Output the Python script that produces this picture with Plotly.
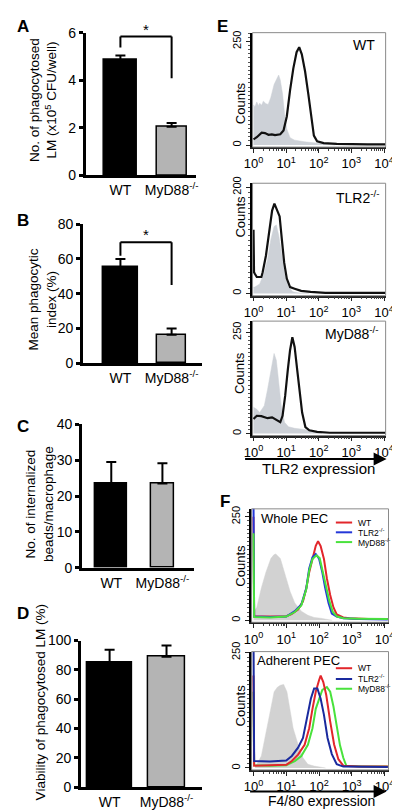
import plotly.graph_objects as go

W, H = 400, 810
FONT = "Arial, Liberation Sans, sans-serif"

# ---------------- data: bar panels ----------------
groups = ["WT", "MyD88<sup>-/-</sup>"]
a_mean = [4.85, 2.05]
a_sem = [0.19, 0.15]
b_mean = [55.1, 16.5]
b_sem = [4.8, 3.5]
c_mean = [23.5, 23.5]
c_sem = [6.0, 5.7]
d_mean = [84.9, 88.9]
d_sem = [8.9, 7.8]
a_ticks = [0, 2, 4, 6]
b_ticks = [0, 20, 40, 60, 80]
c_ticks = [0, 10, 20, 30, 40]
d_ticks = [0, 20, 40, 60, 80, 100]

# ---------------- data: flow histograms (log10 intensity, counts) ----------------
flow_decades = [0, 1, 2, 3, 4]
flow_ticktext = ["10<sup>0</sup>", "10<sup>1</sup>", "10<sup>2</sup>", "10<sup>3</sup>", "10<sup>4</sup>"]

e_wt_iso_x = [0, 0.04, 0.1, 0.15, 0.19, 0.25, 0.3, 0.38, 0.45, 0.53, 0.63, 0.7, 0.73, 0.77, 0.82, 0.89, 0.95, 1.02, 1.12, 1.26, 1.56, 1.85, 2.15, 2.5]
e_wt_iso_y = [97, 92, 104, 95, 101, 96, 106, 100, 98, 115, 146, 158, 163, 169, 157, 123, 76, 39, 18, 12, 8, 5, 2, 0]
e_wt_x = [0, 0.1, 0.25, 0.35, 0.46, 0.56, 0.66, 0.82, 0.92, 1.02, 1.12, 1.22, 1.32, 1.40, 1.48, 1.58, 1.68, 1.78, 1.85, 1.95, 2.15, 2.55, 3.0, 3.5, 4.05]
e_wt_y = [14, 19, 30, 29, 25, 26, 24, 26, 35, 69, 132, 185, 224, 236, 219, 178, 123, 69, 23, 9, 5, 3, 2, 2, 2]

e_tlr_iso_x = [0, 0.04, 0.19, 0.33, 0.43, 0.53, 0.63, 0.70, 0.77, 0.87, 0.97, 1.07, 1.21, 1.4, 1.7]
e_tlr_iso_y = [12, 12, 18, 40, 64, 101, 126, 129, 110, 71, 34, 12, 3, 1, 0]
e_tlr_x = [0, 0.015, 0.04, 0.1, 0.24, 0.28, 0.38, 0.48, 0.57, 0.64, 0.73, 0.80, 0.87, 0.94, 1.02, 1.12, 1.26, 1.46, 1.75, 2.2, 4.05]
e_tlr_y = [120, 40, 37, 31, 31, 40, 71, 114, 156, 169, 156, 145, 101, 58, 28, 12, 9, 5, 3, 1, 1]

e_myd_iso_x = [0, 0.1, 0.19, 0.33, 0.43, 0.53, 0.63, 0.70, 0.77, 0.85, 0.95, 1.07, 1.26, 1.56, 1.85, 2.1]
e_myd_iso_y = [65, 60, 52, 69, 109, 157, 198, 181, 133, 69, 28, 17, 13, 10, 4, 0]
e_myd_x = [0, 0.1, 0.24, 0.43, 0.57, 0.73, 0.82, 0.89, 0.97, 1.05, 1.12, 1.19, 1.26, 1.34, 1.41, 1.49, 1.59, 1.71, 1.95, 2.34, 4.05]
e_myd_y = [36, 44, 43, 38, 40, 32, 28, 44, 93, 157, 206, 238, 214, 157, 101, 52, 16, 8, 4, 2, 2]

f1_iso_x = [0, 0.1, 0.24, 0.38, 0.53, 0.62, 0.68, 0.75, 0.82, 0.97, 1.12, 1.26, 1.46, 1.66, 1.85, 2.05, 2.4]
f1_iso_y = [20, 31, 78, 116, 149, 158, 160, 155, 149, 109, 69, 42, 22, 12, 7, 5, 0]
f1_wt_x = [0, 0.02, 0.5, 1.0, 1.16, 1.36, 1.51, 1.61, 1.70, 1.80, 1.90, 1.97, 2.05, 2.15, 2.24, 2.34, 2.44, 2.54, 2.74, 2.93, 3.5, 4.1]
f1_wt_y = [250, 10, 9, 10, 15, 26, 46, 77, 116, 148, 180, 191, 179, 148, 101, 61, 31, 14, 7, 5, 3, 3]
f1_tlr_x = [0, 0.02, 0.5, 1.0, 1.26, 1.46, 1.61, 1.70, 1.80, 1.90, 2.0, 2.10, 2.19, 2.29, 2.39, 2.54, 2.74, 3.2, 4.1]
f1_tlr_y = [300, 9, 8, 9, 22, 38, 77, 125, 152, 160, 149, 116, 77, 42, 16, 9, 5, 3, 2]
f1_myd_x = [0, 0.02, 0.5, 1.0, 1.26, 1.46, 1.61, 1.70, 1.80, 1.92, 2.02, 2.12, 2.22, 2.32, 2.42, 2.55, 2.75, 3.2, 4.1]
f1_myd_y = [210, 8, 7, 9, 20, 36, 75, 120, 148, 157, 150, 118, 80, 45, 20, 9, 5, 4, 3]

f2_iso_x = [0.05, 0.1, 0.24, 0.38, 0.53, 0.63, 0.73, 0.82, 0.92, 1.02, 1.12, 1.21, 1.36, 1.51, 1.66, 1.85, 2.2]
f2_iso_y = [5, 8, 26, 79, 129, 165, 175, 179, 181, 165, 122, 86, 51, 22, 8, 4, 0]
f2_wt_x = [0, 0.02, 0.5, 1.0, 1.17, 1.36, 1.56, 1.70, 1.80, 1.90, 2.0, 2.05, 2.13, 2.22, 2.34, 2.46, 2.59, 2.74, 3.2, 4.1]
f2_wt_y = [200, 5, 6, 7, 15, 29, 50, 86, 128, 165, 190, 200, 186, 158, 101, 51, 19, 5, 3, 3]
f2_tlr_x = [0, 0.02, 0.5, 1.0, 1.17, 1.36, 1.51, 1.66, 1.75, 1.85, 1.95, 2.05, 2.15, 2.26, 2.39, 2.54, 2.74, 4.1]
f2_tlr_y = [300, 15, 14, 16, 26, 44, 65, 115, 150, 172, 172, 150, 115, 65, 30, 8, 3, 2]
f2_myd_x = [0, 0.02, 0.5, 1.0, 1.26, 1.46, 1.66, 1.80, 1.90, 2.00, 2.10, 2.24, 2.34, 2.44, 2.54, 2.64, 2.74, 2.83, 3.3, 4.1]
f2_myd_y = [165, 6, 5, 6, 15, 26, 50, 86, 128, 150, 169, 175, 165, 133, 86, 49, 22, 5, 3, 3]

# ---------------- helpers ----------------
def xd(a, b):
    return [a / W, b / W]


def yd(top, bottom):
    return [1 - bottom / H, 1 - top / H]


def px(x):
    return x / W


def py(y):
    return 1 - y / H


fig = go.Figure()
layout = {}
shapes = []
annotations = []


def names(i):
    if i == 1:
        return "x", "y", "xaxis", "yaxis"
    return f"x{i}", f"y{i}", f"xaxis{i}", f"yaxis{i}"


def bar_panel(i, mean, sem, widths, ticks, xdom, ydom, xrange):
    xa, ya, xk, yk = names(i)
    fig.add_trace(go.Bar(
        x=groups, y=mean, width=widths, xaxis=xa, yaxis=ya, showlegend=False,
        marker=dict(color=["black", "#b4b4b4"], line=dict(color="black", width=1.5)),
        error_y=dict(type="data", array=sem, arrayminus=[0, 0], symmetric=False,
                     color="black", thickness=2, width=5),
    ))
    layout[xk] = dict(domain=xdom, anchor=ya, type="category", range=xrange,
                      showline=True, linewidth=3, linecolor="black", ticks="",
                      tickfont=dict(size=14, color="black"), showgrid=False,
                      zeroline=False, fixedrange=True)
    layout[yk] = dict(domain=ydom, anchor=xa, range=[0, ticks[-1]], tickvals=ticks,
                      ticks="outside", ticklen=4, tickwidth=2.5, tickcolor="black",
                      showline=True, linewidth=3, linecolor="black",
                      tickfont=dict(size=14, color="black"), showgrid=False,
                      zeroline=False, fixedrange=True)


bar_panel(1, a_mean, a_sem, [0.65, 0.58], a_ticks, xd(72, 187), yd(15, 161), [-0.673, 1.477])
bar_panel(2, b_mean, b_sem, [0.67, 0.55], b_ticks, xd(69, 193), yd(210.7, 353.3), [-0.73, 1.59])
bar_panel(3, c_mean, c_sem, [0.63, 0.46], c_ticks, xd(68, 185), yd(415.7, 562.3), [-0.57, 1.62])
bar_panel(4, d_mean, d_sem, [0.79, 0.64], d_ticks, xd(67, 193), yd(636.7, 786.7), [-0.50, 1.62])

# significance brackets (panels A and B)
def bracket(xa, ya, top, left_end, right_end, star_py):
    for (x0, y0, x1, y1) in [(0, left_end, 0, top), (0, top, 1, top), (1, top, 1, right_end)]:
        shapes.append(dict(type="line", xref=xa, yref=ya, x0=x0, y0=y0, x1=x1, y1=y1,
                           line=dict(color="black", width=2)))
    annotations.append(dict(xref=xa, yref="paper", x=0.5, y=py(star_py), text="*", showarrow=False,
                            yanchor="middle", font=dict(size=15, color="black")))


bracket("x", "y", 5.84, 5.38, 4.08, 12)
bracket("x2", "y2", 69.6, 61.8, 45, 221)

# y titles for bar panels
def rot_text(x, y, text, size=14):
    annotations.append(dict(xref="paper", yref="paper", x=px(x), y=py(y), text=text,
                            textangle=-90, showarrow=False, xanchor="center", yanchor="middle",
                            font=dict(size=size, color="black")))


rot_text(27, 84, "No. of phagocytosed<br>LM (x10<sup>5</sup> CFU/well)", 13.5)
rot_text(27, 288, "Mean phagocytic<br>index (%)", 13.5)
rot_text(24, 497, "No. of internalized<br>beads/macrophage", 13.5)
rot_text(25, 700, "Viability of phagocytosed LM (%)", 13.5)

# panel letters
for letter, (lx, ly) in {"A": (6, 9), "B": (6, 207), "C": (6, 418), "D": (6, 609),
                         "E": (215, 9), "F": (217, 494)}.items():
    annotations.append(dict(xref="paper", yref="paper", x=px(lx), y=py(ly), text=f"<b>{letter}</b>",
                            showarrow=False, xanchor="center", yanchor="middle",
                            font=dict(size=17, color="black")))

# ---------------- flow panels ----------------
minor_x = [m * 10 ** d for d in range(4) for m in range(2, 10)]


def flow_panel(i, xdom, ydom, xr, yr, ytop, curves):
    xa, ya, xk, yk = names(i)
    for c in curves:
        xs = [10 ** v for v in c["x"]]
        if c.get("fill"):
            fig.add_trace(go.Scatter(x=xs, y=c["y"], mode="lines", fill="tozeroy",
                                     fillcolor=c["color"], line=dict(width=0.5, color=c["color"]),
                                     xaxis=xa, yaxis=ya, showlegend=False, hoverinfo="skip"))
        else:
            fig.add_trace(go.Scatter(x=xs, y=c["y"], mode="lines",
                                     line=dict(width=c.get("width", 2), color=c["color"]),
                                     xaxis=xa, yaxis=ya, showlegend=False))
    layout[xk] = dict(domain=xdom, anchor=ya, type="log", range=xr,
                      tickvals=[10 ** d for d in flow_decades], ticktext=flow_ticktext,
                      ticks="outside", ticklen=4, tickwidth=1.2, tickcolor="#222",
                      minor=dict(tickvals=minor_x, ticks="outside", ticklen=2, tickcolor="#444", tickwidth=1),
                      showline=True, linewidth=1.5, linecolor="#222",
                      tickfont=dict(size=13, color="black"), showgrid=False, zeroline=False,
                      fixedrange=True)
    layout[yk] = dict(domain=ydom, anchor=xa, range=yr, tickvals=[0, ytop],
                      tickangle=-90, ticks="outside", ticklen=4, tickwidth=1.2, tickcolor="#222",
                      minor=dict(dtick=10, ticks="outside", ticklen=2, tickcolor="#555", tickwidth=1),
                      showline=True, linewidth=2.5, linecolor="black",
                      tickfont=dict(size=11, color="black"), showgrid=False, zeroline=False,
                      fixedrange=True)
    shapes.append(dict(type="rect", xref=f"{xa} domain", yref=f"{ya} domain", x0=0, x1=1, y0=0, y1=1,
                       line=dict(color="#8a8a8a", width=1), layer="above"))


ISO_E = "#cdd1d7"
ISO_F = "#d2d2d2"
RED = "#e2262b"
BLUE = "#2437d8"
NAVY = "#1a2a9e"
GREEN = "#49e23c"

flow_panel(5, xd(246, 385), yd(15, 132), [-0.03, 4.05], [-4.7, 271], 250, [
    dict(x=e_wt_iso_x, y=e_wt_iso_y, color=ISO_E, fill=True),
    dict(x=e_wt_x, y=e_wt_y, color="#111", width=2.2),
])
flow_panel(6, xd(246, 385), yd(169, 284), [-0.03, 4.05], [-4.2, 207.4], 200, [
    dict(x=e_tlr_iso_x, y=e_tlr_iso_y, color=ISO_E, fill=True),
    dict(x=e_tlr_x, y=e_tlr_y, color="#111", width=2.2),
])
flow_panel(7, xd(246, 385), yd(310, 427), [-0.03, 4.05], [-4.8, 278], 250, [
    dict(x=e_myd_iso_x, y=e_myd_iso_y, color=ISO_E, fill=True),
    dict(x=e_myd_x, y=e_myd_y, color="#111", width=2.2),
])
flow_panel(8, xd(245, 388), yd(502, 618), [-0.058, 4.12], [-4.7, 269], 250, [
    dict(x=f1_iso_x, y=f1_iso_y, color=ISO_F, fill=True),
    dict(x=f1_wt_x, y=f1_wt_y, color=RED),
    dict(x=f1_tlr_x, y=f1_tlr_y, color=BLUE),
    dict(x=f1_myd_x, y=f1_myd_y, color=GREEN),
])
flow_panel(9, xd(245, 388), yd(648, 769), [-0.058, 4.12], [-4.2, 252], 250, [
    dict(x=f2_iso_x, y=f2_iso_y, color=ISO_F, fill=True),
    dict(x=f2_myd_x, y=f2_myd_y, color=GREEN),
    dict(x=f2_wt_x, y=f2_wt_y, color=RED),
    dict(x=f2_tlr_x, y=f2_tlr_y, color=NAVY),
])

# Counts titles
for cy in [87, 203, 363, 560, 703]:
    rot_text(233, cy, "Counts", size=13)


def label(x, y, text, size=13, anchor="center"):
    annotations.append(dict(xref="paper", yref="paper", x=px(x), y=py(y), text=text,
                            showarrow=False, xanchor=anchor, yanchor="middle",
                            font=dict(size=size, color="black")))


label(362, 28, "WT", 14)
label(380, 183, "TLR2<sup>-/-</sup>", 14, "right")
label(380, 322, "MyD88<sup>-/-</sup>", 14, "right")
label(253, 512, "Whole PEC", 13, "left")
label(249, 657, "Adherent PEC", 13, "left")
label(315, 461, "TLR2 expression", 15)
label(318, 801, "F4/80 expression", 14)

# arrows under E and F
for (x0, x1, yy) in [(243, 386, 451), (248, 386, 791)]:
    annotations.append(dict(xref="paper", yref="paper", x=px(x1), y=py(yy), ax=-(x1 - x0), ay=0,
                            text="", showarrow=True, arrowhead=2, arrowsize=1.3, arrowwidth=2,
                            arrowcolor="black", standoff=0))

# F legends
legend_rows = [
    (516, RED, "WT"), (526, BLUE, "TLR2<sup>-/-</sup>"), (536, GREEN, "MyD88<sup>-/-</sup>"),
    (665, RED, "WT"), (676, NAVY, "TLR2<sup>-/-</sup>"), (686, GREEN, "MyD88<sup>-/-</sup>"),
]
for (ly, col, txt) in legend_rows:
    shapes.append(dict(type="line", xref="paper", yref="paper", x0=px(333), x1=px(350),
                       y0=py(ly), y1=py(ly), line=dict(color=col, width=2)))
    label(354, ly, txt, 8.5, "left")

fig.update_layout(**layout)
fig.update_layout(
    width=W, height=H, margin=dict(l=0, r=0, t=0, b=0),
    paper_bgcolor="white", plot_bgcolor="rgba(0,0,0,0)",
    font=dict(family=FONT, color="black"),
    shapes=shapes, annotations=annotations, showlegend=False, bargap=0,
)

fig.write_html("out.html")
